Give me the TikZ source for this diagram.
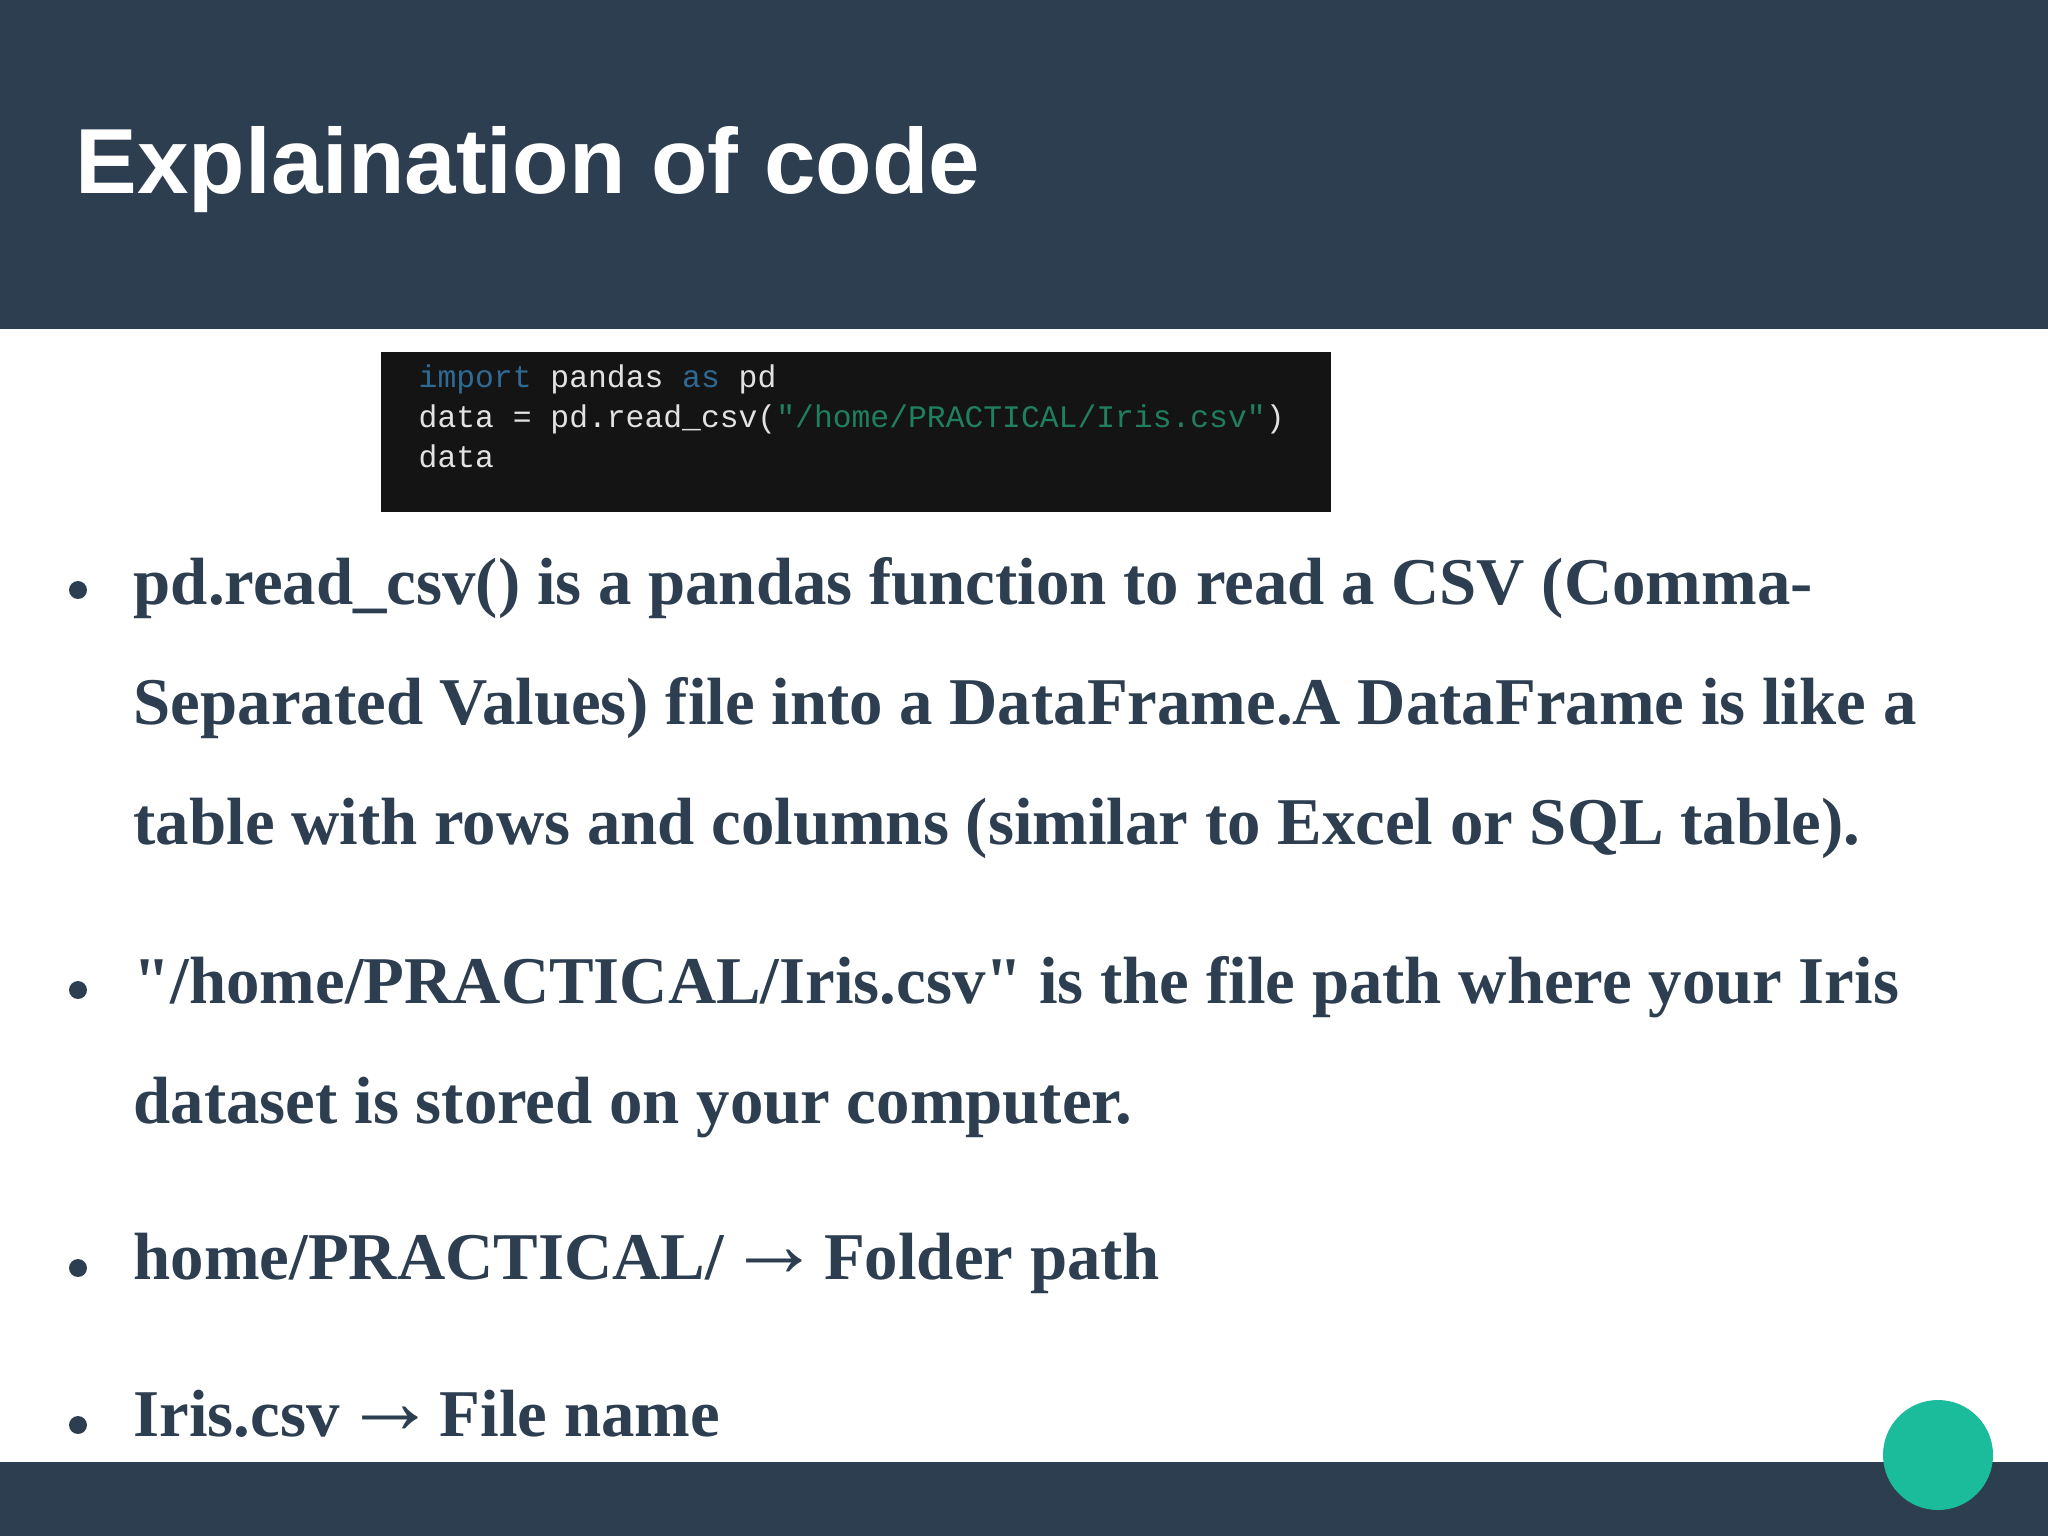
\documentclass[tikz,border=0pt]{standalone}
\usepackage{fontspec}
\setmainfont{Liberation Serif}[Ligatures=TeXOff]
\newfontfamily\titlefont{Liberation Sans}
\newfontfamily\codefont{Liberation Mono}
\definecolor{slatebar}{HTML}{2C3E50}
\definecolor{tealdot}{HTML}{1ABC9C}
\definecolor{codebg}{HTML}{141414}
\definecolor{codetext}{HTML}{E2E2E2}
\definecolor{codekey}{HTML}{2F6A94}
\definecolor{codestr}{HTML}{1F7F60}
\newcommand{\textarrow}{\makebox[1em][c]{\raisebox{0.6pt}{\scalebox{1.4}{→}}}}
\tikzset{
	bodyline/.style = {anchor=base west, inner sep=0pt, text=slatebar, font=\fontsize{19}{22}\selectfont\bfseries},
	codeline/.style = {anchor=base west, inner sep=0pt, text=codetext, font=\fontsize{8.92}{10}\selectfont\codefont},
	bulletdot/.style = {circle, fill=slatebar, inner sep=0pt, minimum size=5.1pt}
}
\begin{document}
\begin{tikzpicture}[x=0.01cm, y=-0.01cm]
	\useasboundingbox (0,0) rectangle (2048,1536);
	\fill[white] (0,0) rectangle (2048,1536);
	\fill[slatebar] (0,0) rectangle (2048,329);
	\fill[slatebar] (0,1462) rectangle (2048,1536);
	\fill[codebg] (381,352) rectangle (1331,512);
	\fill[tealdot] (1938,1455) circle (55);
	\node[anchor=base west, inner sep=0pt, text=white, font=\fontsize{26.3}{30}\selectfont\titlefont\bfseries] (title) at (75,193) {Explaination of code};
	\node[codeline] (codeone) at (418,387) {\textcolor{codekey}{import} pandas \textcolor{codekey}{as} pd};
	\node[codeline] (codetwo) at (418,427) {data = pd.read\_csv(\textcolor{codestr}{"/home/PRACTICAL/Iris.csv"})};
	\node[codeline] (codethree) at (418,467) {data};
	\node[bulletdot] (dotone) at (78,590) {};
	\node[bulletdot] (dottwo) at (78,990) {};
	\node[bulletdot] (dotthree) at (78,1268) {};
	\node[bulletdot] (dotfour) at (78,1425) {};
	\node[bodyline] (lineone) at (133,604) {pd.read\_csv() is a pandas function to read a CSV (Comma-};
	\node[bodyline] (linetwo) at (133,724) {Separated Values) file into a DataFrame.A DataFrame is like a};
	\node[bodyline] (linethree) at (133,844) {table with rows and columns (similar to Excel or SQL table).};
	\node[bodyline] (linefour) at (133,1003) {"/home/PRACTICAL/Iris.csv" is the file path where your Iris};
	\node[bodyline] (linefive) at (133,1123) {dataset is stored on your computer.};
	\node[bodyline] (linesix) at (133,1279) {home/PRACTICAL/ \textarrow{} Folder path};
	\node[bodyline] (lineseven) at (133,1436) {Iris.csv \textarrow{} File name};
\end{tikzpicture}
\end{document}
